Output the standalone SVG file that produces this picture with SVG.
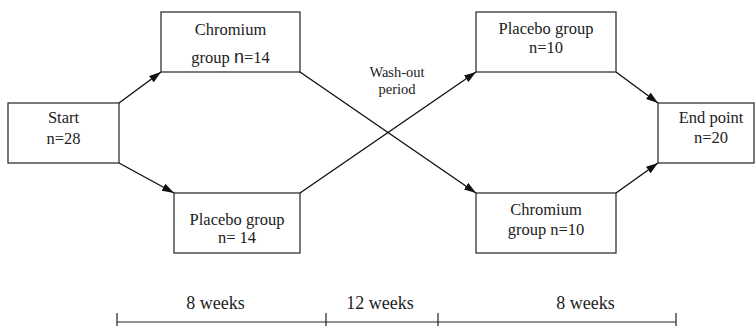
<svg xmlns="http://www.w3.org/2000/svg" width="755" height="326" viewBox="0 0 755 326">
<style>
.box{fill:#fff;stroke:#333;stroke-width:1.3}
.c{stroke:#111;stroke-width:1.4;fill:none}
.axis{stroke:#222;stroke-width:1.2;fill:none}
</style>
<defs>
<marker id="ah" viewBox="0 0 12 8" refX="12" refY="4" markerWidth="12" markerHeight="8" markerUnits="userSpaceOnUse" orient="auto">
<path d="M0,0 L12,4 L0,8 Z" fill="#111"/>
</marker>
</defs>
<rect width="755" height="326" fill="#fff"/>
<g font-family="Liberation Serif" font-size="16.5" fill="#222" text-anchor="middle">
<g id="start"><rect class="box" x="8" y="103" width="111" height="60"/><text x="63.5" y="123">Start</text><text x="63.5" y="144">n=28</text></g>
<g id="chromium1"><rect class="box" x="161" y="12" width="139" height="60"/><text x="230.5" y="35">Chromium</text><text x="230.5" y="63">group <tspan font-family="Liberation Sans" font-size="18">n</tspan>=14</text></g>
<g id="placebo1"><rect class="box" x="174" y="193" width="126" height="60"/><text x="237" y="225">Placebo group</text><text x="237" y="243">n= 14</text></g>
<g id="placebo2"><rect class="box" x="476" y="12" width="140" height="60"/><text x="546" y="34">Placebo group</text><text x="546" y="53">n=10</text></g>
<g id="chromium2"><rect class="box" x="476" y="193" width="140" height="60"/><text x="546" y="215">Chromium</text><text x="546" y="235">group n=10</text></g>
<g id="end"><rect class="box" x="658" y="103" width="96" height="60"/><text x="711" y="123">End point</text><text x="711" y="143">n=20</text></g>
<g id="washout" font-size="14.5"><text x="397" y="77">Wash-out</text><text x="397" y="94">period</text></g>
<g id="timeline-labels" font-size="18">
<text x="215.5" y="309">8 weeks</text>
<text x="380" y="309">12 weeks</text>
<text x="585.5" y="309">8 weeks</text>
</g>
</g>
<g id="connectors">
<line class="c" x1="119" y1="103" x2="161" y2="72" marker-end="url(#ah)"/>
<line class="c" x1="119" y1="163" x2="174" y2="193" marker-end="url(#ah)"/>
<line class="c" x1="300" y1="72" x2="476" y2="193" marker-end="url(#ah)"/>
<line class="c" x1="300" y1="193" x2="476" y2="72" marker-end="url(#ah)"/>
<line class="c" x1="616" y1="72" x2="658" y2="103" marker-end="url(#ah)"/>
<line class="c" x1="616" y1="193" x2="658" y2="163" marker-end="url(#ah)"/>
</g>
<g id="timeline">
<path class="axis" d="M117,322 H676 M117,313 V326 M326,313 V326 M438,313 V326 M676,313 V326"/>
</g>
</svg>
